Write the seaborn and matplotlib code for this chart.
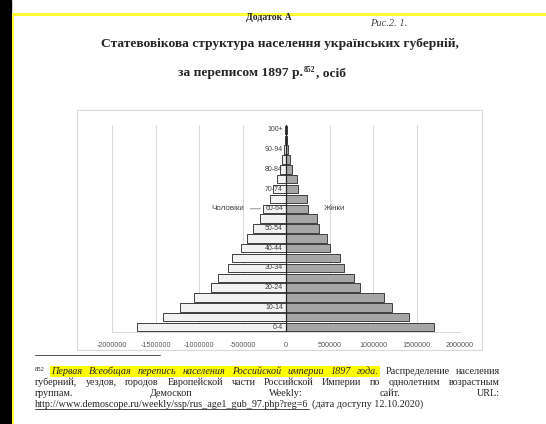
import matplotlib
matplotlib.use('Agg')
import matplotlib.pyplot as plt
import matplotlib.transforms as mtransforms
from matplotlib.patches import Rectangle
import pandas as pd
import seaborn as sns

# Age groups (bottom to top) and population by sex, 1897 census
ages = ['0-4', '5-9', '10-14', '15-19', '20-24', '25-29', '30-34', '35-39', '40-44', '45-49',
        '50-54', '55-59', '60-64', '65-69', '70-74', '75-79', '80-84', '85-89', '90-94', '95-99', '100+']
men = [1715000, 1415000, 1223000, 1061000, 858000, 781000, 665000, 615000, 519000, 446000,
       377000, 300000, 262000, 185000, 146000, 108000, 69000, 50000, 27000, 15000, 8000]
women = [1700000, 1411000, 1219000, 1123000, 846000, 777000, 661000, 615000, 508000, 469000,
         385000, 362000, 258000, 238000, 142000, 123000, 65000, 46000, 27000, 15000, 8000]
xticks = [-2000000, -1500000, -1000000, -500000, 0, 500000, 1000000, 1500000, 2000000]
shown_ages = ages[::2]

W, H = 546, 424
SERIF = 'Liberation Serif'

sns.set_style('white')
plt.rcParams['font.family'] = ['Liberation Serif', 'DejaVu Sans']

fig = plt.figure(figsize=(W / 100, H / 100), dpi=100)
fig.patch.set_facecolor('white')


def words_at(y, parts, x0=None, x1=None, gap=3.0, center=None):
    """place text pieces on one baseline (pixel coords), optionally justified or centred"""
    arts = []
    for t, size, kw, dy in parts:
        arts.append(fig.text(0, 1 - (y - dy) / H, t, fontsize=size, va='baseline',
                             family=SERIF, **kw))
    r = fig.canvas.get_renderer()
    ws = [a.get_window_extent(r).width for a in arts]
    if x1 is not None and len(arts) > 1:
        gap = (x1 - x0 - sum(ws)) / (len(arts) - 1)
    if center is not None:
        x0 = center - (sum(ws) + gap * (len(arts) - 1)) / 2
    spans = []
    x = x0
    for a, w in zip(arts, ws):
        a.set_x(x / W)
        spans.append((x, x + w))
        x += w + gap
    return spans


def rect_px(x0, y0, x1, y1, **kw):
    fig.add_artist(Rectangle((x0 / W, 1 - y1 / H), (x1 - x0) / W, (y1 - y0) / H,
                             transform=fig.transFigure, **kw))


# page decoration
rect_px(0, 0, 11, H, color='black', zorder=0)
rect_px(11.5, 13, 14, H, color='#ffff33', lw=0, zorder=0)
rect_px(11.5, 13, W, 15.5, color='#ffff33', lw=0, zorder=0)

# chart frame
rect_px(77, 110, 482, 350, fill=False, edgecolor='#d9d9d9', lw=0.8, zorder=0)

# pyramid
df = pd.DataFrame({
    'age': ages * 2,
    'sex': ['Чоловіки'] * len(ages) + ['Жінки'] * len(ages),
    'value': [-v for v in men] + women,
})
order = ages[::-1]

ax = fig.add_axes([112 / W, 1 - 332 / H, (460 - 112) / W, (332 - 125) / H])
sns.barplot(data=df, x='value', y='age', hue='sex', order=order, orient='h', dodge=False,
            palette={'Чоловіки': '#f2f2f2', 'Жінки': '#a6a6a6'}, edgecolor='#3f3f3f',
            linewidth=0.7, width=0.85, legend=False, ax=ax)
ax.set_xlim(-2000000, 2000000)
ax.set_ylim(len(ages) - 0.5, -0.5)
ax.set_xticks(xticks)
ax.set_xticklabels([str(t) for t in xticks], fontsize=5.2, color='#595959', family='Liberation Sans')
ax.set_yticks([])
ax.set_xlabel('')
ax.set_ylabel('')
ax.tick_params(axis='x', length=0, pad=7)
ax.grid(axis='x', color='#d9d9d9', lw=0.7)
ax.set_axisbelow(True)
for s in ['top', 'left', 'right']:
    ax.spines[s].set_visible(False)
ax.spines['bottom'].set_color('#d9d9d9')
ax.spines['bottom'].set_linewidth(0.7)
ax.axvline(0, color='#262626', lw=0.9, zorder=3)

lab_tr = mtransforms.offset_copy(ax.transData, fig=fig, x=-3, y=0, units='dots')
for a in shown_ages:
    ax.text(0, order.index(a), a, transform=lab_tr, ha='right', va='center',
            fontsize=5, color='#404040', family='Liberation Sans', zorder=4)

row = order.index('60-64')
ax.annotate('Чоловіки', xy=(-men[ages.index('60-64')], row), xytext=(-480000, row),
            ha='right', va='center', fontsize=5.8, color='#404040', family='Liberation Sans',
            arrowprops=dict(arrowstyle='-', color='#7f7f7f', lw=0.6))
ax.text(430000, row, 'Жінки', ha='left', va='center', fontsize=5.8, color='#404040',
        family='Liberation Sans')

# heading
words_at(20, [('Додаток А', 7, dict(weight='bold'), 0)], center=269)
words_at(26, [('Рис.2. 1.', 7.5, dict(style='italic', color='#444444'), 0)], x0=370)
words_at(47, [('Статевовікова структура населення українських губерній,', 9.7,
               dict(weight='bold'), 0)], center=280)
words_at(76, [('за переписом 1897 р.', 9.7, dict(weight='bold'), 0),
              ('852', 5.5, dict(weight='bold'), 3.5),
              (', осіб', 9.7, dict(weight='bold'), 0)], center=262, gap=0.3)

# footnote
fig.add_artist(plt.Line2D([35 / W, 160 / W], [1 - 355 / H] * 2, transform=fig.transFigure,
                          color='#333333', lw=0.6))
FS = 7.3
it = dict(style='italic')
line1 = [('852', 4.8, {}, 3)]
hl = 'Первая Всеобщая перепись населения Российской империи 1897 года.'.split()
line1 += [(w, FS, it, 0) for w in hl]
line1 += [(w, FS, {}, 0) for w in 'Распределение населения'.split()]
sp = words_at(374, line1, x0=35, x1=500)
rect_px(sp[1][0] - 1, 366, sp[len(hl)][1] + 1, 376.5, color='#ffff00', lw=0, zorder=0.5)

words_at(385, [(w, FS, {}, 0) for w in
               'губерний, уездов, городов Европейской части Российской Империи по однолетним возрастным'.split()],
         x0=35, x1=500)
words_at(396, [(w, FS, {}, 0) for w in 'группам. Демоскоп Weekly: сайт. URL:'.split()],
         x0=35, x1=500)
sp = words_at(407, [('http://www.demoscope.ru/weekly/ssp/rus_age1_gub_97.php?reg=6', FS, {}, 0),
                    ('(дата доступу 12.10.2020)', FS, {}, 0)], x0=35, gap=4)
fig.add_artist(plt.Line2D([sp[0][0] / W, sp[0][1] / W], [1 - 408.5 / H] * 2,
                          transform=fig.transFigure, color='black', lw=0.5))

fig.savefig('out.png', dpi=100)
